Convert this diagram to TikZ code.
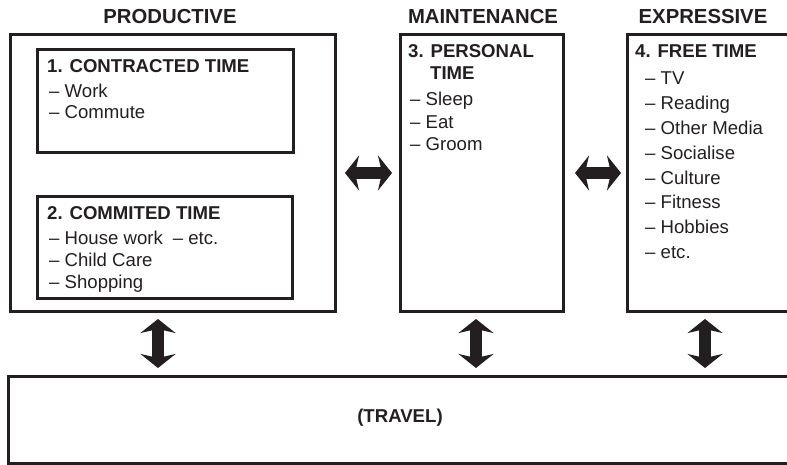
\documentclass[tikz,border=0pt]{standalone}
\usepackage{fontspec}
\setmainfont{Liberation Sans}
\usetikzlibrary{arrows.meta}
\definecolor{ink}{RGB}{35,31,32}
\begin{document}
\begin{tikzpicture}[x=1pt,y=-1pt,
  box/.style={draw=ink, line width=3pt, inner sep=0pt, anchor=north west},
  head/.style={font=\fontsize{20.3}{24}\selectfont\bfseries, text=ink, inner sep=0pt, anchor=base},
  title/.style={font=\fontsize{18.6}{22}\selectfont\bfseries, text=ink, inner sep=0pt, anchor=base west},
  item/.style={font=\fontsize{18.6}{22}\selectfont, text=ink, inner sep=0pt, anchor=base west},
  fattip/.style={Stealth[width=35pt,length=14pt,inset=4pt]},
  link/.style={line width=12.5pt, draw=ink, {Stealth[width=35pt,length=14pt,inset=4pt]}-{Stealth[width=35pt,length=14pt,inset=4pt]}}
]
\useasboundingbox (0,0) rectangle (787,465);
\clip (0,0) rectangle (787,465);

% column headings
\node[head] (hprod)  at (170,24) {PRODUCTIVE};
\node[head] (hmaint) at (483,24) {MAINTENANCE};
\node[head] (hexpr)  at (703,24) {EXPRESSIVE};

% outer boxes
\node[box, minimum width=325pt, minimum height=277pt] (prod)    at (9,33)   {};
\node[box, minimum width=163pt, minimum height=277pt] (maint)   at (399,33) {};
\node[box, minimum width=200pt, minimum height=277pt] (express) at (626,33) {};
\node[box, minimum width=800pt, minimum height=87pt]  (travel)  at (7,375)  {};

% inner boxes of the productive column
\node[box, minimum width=256pt, minimum height=103pt] (contract) at (36,48)  {};
\node[box, minimum width=255pt, minimum height=102pt] (commit)   at (36,195) {};

% 1. contracted time
\node[title] (ct)  at (47,73)   {1. CONTRACTED TIME};
\node[item]  (ct1) at (49,97.5) {– Work};
\node[item]  (ct2) at (49,119)  {– Commute};

% 2. committed time
\node[title] (cm)  at (47,219)   {2. COMMITED TIME};
\node[item]  (cm1) at (49,244)   {– House work\hspace{10pt}– etc.};
\node[item]  (cm2) at (49,266.5) {– Child Care};
\node[item]  (cm3) at (49,288.5) {– Shopping};

% 3. personal time
\node[title] (pt)  at (408,58)  {3. PERSONAL};
\node[title] (ptb) at (430,80)  {TIME};
\foreach \t [count=\i] in {Sleep, Eat, Groom}
  \node[item] (pt\i) at (410,{106+22.5*(\i-1)}) {– \t};

% 4. free time
\node[title] (ft) at (635,58) {4. FREE TIME};
\foreach \t [count=\i] in {TV, Reading, Other Media, Socialise, Culture, Fitness, Hobbies, etc.}
  \node[item] (ft\i) at (645,{85+24.8*(\i-1)}) {– \t};

% travel
\node[font=\fontsize{18.6}{22}\selectfont\bfseries, text=ink, inner sep=0pt] (trv) at (400,418) {(TRAVEL)};

% arrow end points
\coordinate (v1t) at (158,319); \coordinate (v1b) at (158,368);
\coordinate (v2t) at (476,319); \coordinate (v2b) at (476,368);
\coordinate (v3t) at (705,319); \coordinate (v3b) at (705,368);

% block arrows
\draw[link] ([xshift=8pt]prod.east) -- ([xshift=-7pt]maint.west);
\draw[link] ([xshift=10pt]maint.east) -- ([xshift=-5pt]express.west);
\draw[link] (v1t) -- (v1b);
\draw[link] (v2t) -- (v2b);
\draw[link] (v3t) -- (v3b);
\end{tikzpicture}
\end{document}
